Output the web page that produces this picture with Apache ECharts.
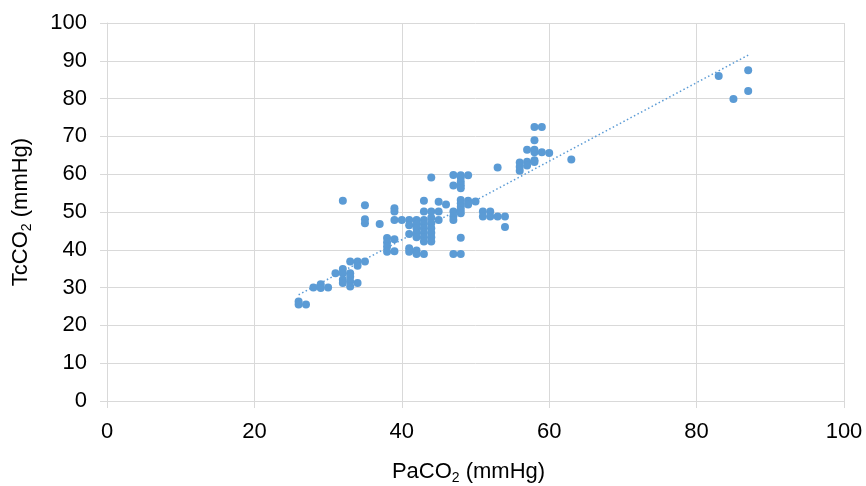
<!DOCTYPE html>
<html>
<head>
<meta charset="utf-8">
<script src="https://cdn.jsdelivr.net/npm/echarts@6/dist/echarts.min.js"></script>
<style>html,body{margin:0;padding:0;background:#fff;}#c{width:866px;height:486px;}</style>
</head>
<body>
<div id="c"></div>
<script>
// PaCO2 values (x)
const paco2 = [
  26, 26, 27, 28, 29, 29, 30, 31, 32, 32, 32, 32, 33, 33, 33, 33, 34, 33, 34, 34, 35,
  32, 35, 35, 35, 37, 38, 38, 38, 38, 39, 39, 39, 39, 39, 40,
  41, 41, 41, 41, 41,
  42, 42, 42, 42, 42, 42, 42,
  43, 43, 43, 43, 43, 43, 43, 43, 43,
  44, 44, 44, 44, 44, 44, 44, 44,
  45, 45, 45, 46,
  47, 47, 47, 47, 47, 47,
  48, 48, 48, 48, 48, 48, 48, 48, 48, 48, 48, 48,
  49, 49, 49, 50, 51, 51, 52, 52, 53, 53, 54, 54,
  56, 56, 56, 57, 57, 57, 58, 58, 58, 58, 58, 58, 59, 59, 60, 63,
  83, 85, 87, 87
];
// TcCO2 values (y)
const tcco2 = [
  26.3, 25.5, 25.5, 30.0, 30.9, 29.9, 30.0, 33.8, 34.9, 33.8, 32.1, 31.2, 33.8, 32.9, 31.6, 30.3, 31.2, 36.9, 36.9, 35.8, 36.9,
  53.0, 51.8, 48.1, 47.0, 46.8, 43.1, 41.9, 40.8, 39.5, 51.0, 50.1, 47.9, 42.8, 39.6, 47.9,
  47.9, 46.5, 44.2, 40.4, 39.5,
  47.9, 46.8, 45.7, 44.5, 43.3, 39.8, 38.9,
  53.0, 50.1, 47.9, 46.8, 45.7, 44.5, 43.3, 42.2, 38.9,
  59.1, 50.1, 48.5, 47.0, 45.7, 44.5, 43.3, 42.2,
  52.7, 50.1, 47.9, 52.0,
  59.8, 57.0, 50.1, 48.9, 47.9, 38.9,
  59.7, 59.1, 58.0, 57.1, 56.3, 53.2, 52.3, 51.4, 50.5, 49.7, 43.2, 38.9,
  59.7, 53.0, 52.0, 52.8, 50.1, 48.8, 50.1, 48.8, 48.8, 61.8, 48.8, 46.0,
  63.1, 62.0, 60.9, 66.5, 63.3, 62.3, 72.5, 69.0, 66.5, 65.8, 63.7, 63.2, 72.5, 65.8, 65.6, 63.9,
  86.0, 79.9, 87.5, 82.0
];
// Linear trendline endpoints
const trendX = [26, 87];
const trendY = [28.1, 91.5];
// Tick labels
const xTicks = [0, 20, 40, 60, 80, 100];
const yTicks = [0, 10, 20, 30, 40, 50, 60, 70, 80, 90, 100];

const points = paco2.map((x, i) => [x, tcco2[i]]);
const trend = trendX.map((x, i) => [x, trendY[i]]);

const chart = echarts.init(document.getElementById('c'), null, {renderer: 'canvas'});
const font = '"Liberation Sans", Arial, sans-serif';
const blue = '#5b9bd5';
const grey = '#d9d9d9';
const subRich = {sub: {fontSize: 14, verticalAlign: 'bottom', padding: [12, 0, 0, 0], fontFamily: font, color: '#000'}};
chart.setOption({
  animation: false,
  backgroundColor: '#fff',
  textStyle: {fontFamily: font},
  grid: {left: 107, right: 22, top: 23, bottom: 85, containLabel: false, outerBoundsMode: 'none'},
  xAxis: {
    type: 'value', min: xTicks[0], max: xTicks[xTicks.length - 1], interval: 20,
    axisLine: {show: true, lineStyle: {color: grey, width: 1}},
    axisTick: {show: true, length: 7, lineStyle: {color: grey}},
    splitLine: {show: true, lineStyle: {color: grey, width: 1}},
    axisLabel: {color: '#000', fontSize: 22, fontFamily: font, margin: 20},
    name: 'PaCO{sub|2} (mmHg)',
    nameLocation: 'middle', nameGap: 58,
    nameTextStyle: {color: '#000', fontSize: 22, fontFamily: font, rich: subRich, padding: [0, 14, 0, 0]}
  },
  yAxis: {
    type: 'value', min: yTicks[0], max: yTicks[yTicks.length - 1], interval: 10,
    axisLine: {show: true, lineStyle: {color: grey, width: 1}},
    axisTick: {show: true, length: 7, lineStyle: {color: grey}},
    splitLine: {show: true, lineStyle: {color: grey, width: 1}},
    axisLabel: {color: '#000', fontSize: 22, fontFamily: font, margin: 20},
    name: 'TcCO{sub|2} (mmHg)',
    nameLocation: 'middle', nameGap: 73,
    nameTextStyle: {color: '#000', fontSize: 22, fontFamily: font, rich: subRich}
  },
  series: [
    {
      type: 'line', data: trend, showSymbol: false, symbol: 'none',
      lineStyle: {color: blue, width: 1.5, type: [1.5, 2.5]}, z: 2, silent: true
    },
    {
      type: 'scatter', data: points, symbol: 'circle', symbolSize: 8,
      itemStyle: {color: blue, opacity: 1}, z: 3
    }
  ]
});
</script>
</body>
</html>
